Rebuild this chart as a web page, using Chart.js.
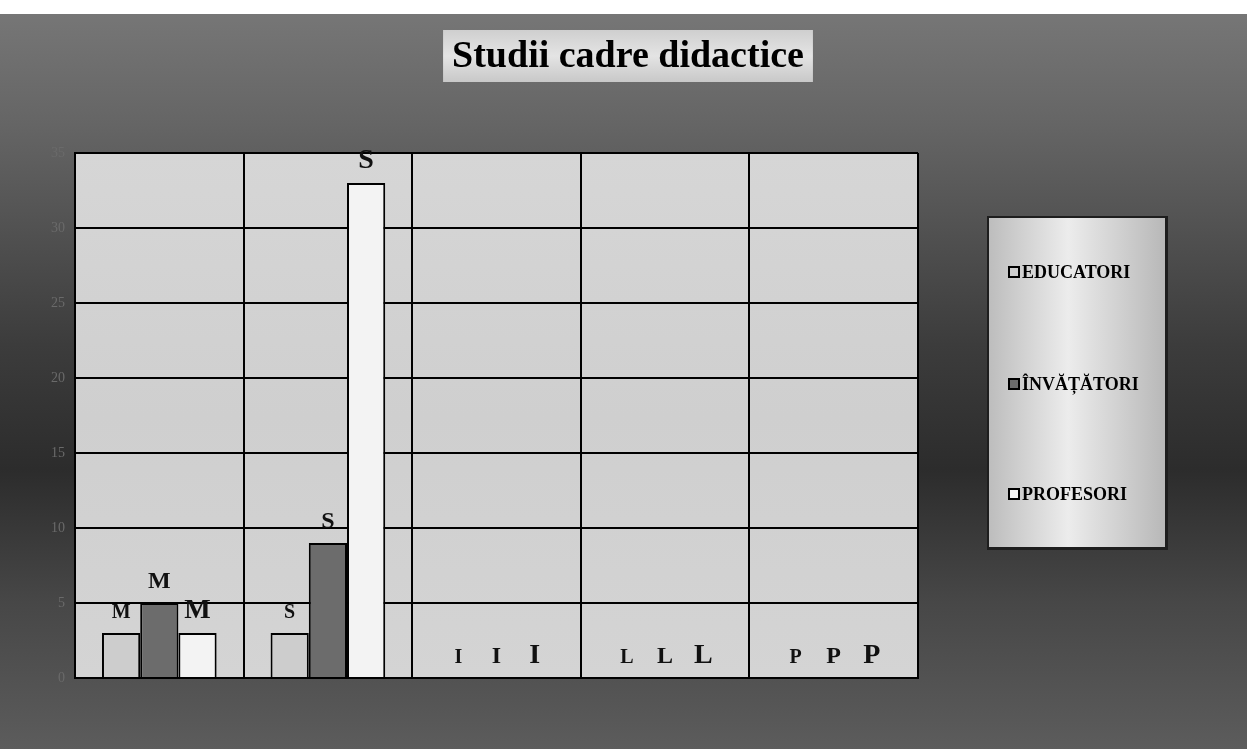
<!DOCTYPE html>
<html>
<head>
<meta charset="utf-8">
<script src="https://cdn.jsdelivr.net/npm/chart.js@4"></script>
<style>
html,body{margin:0;padding:0;background:#555;}
#wrap{width:1247px;height:749px;position:relative;}
</style>
</head>
<body>
<div id="wrap"><canvas id="c" width="1247" height="749"></canvas></div>
<script>
const categories = ['M', 'S', 'I', 'L', 'P'];
const seriesNames = ['EDUCATORI', 'ÎNVĂȚĂTORI', 'PROFESORI'];
const educatori = [3, 3, 0, 0, 0];
const invatatori = [5, 9, 0, 0, 0];
const profesori = [3, 33, 0, 0, 0];
const yMax = 35;
const yStep = 5;
const titleText = 'Studii cadre didactice';

const seriesColors = ['#cdcdcd', '#6c6c6c', '#f3f3f3'];
const labelSizes = [20, 24, 28];
const serif = '"Liberation Serif", "Times New Roman", serif';

const bgPlugin = {
  id: 'bg',
  beforeDraw(chart) {
    const {ctx, width, height, chartArea: a} = chart;
    ctx.save();
    ctx.fillStyle = '#ffffff';
    ctx.fillRect(0, 0, width, height);
    const g = ctx.createLinearGradient(0, 14, 0, height);
    g.addColorStop(0, '#767676');
    g.addColorStop(0.15, '#656565');
    g.addColorStop(0.45, '#3c3c3c');
    g.addColorStop(0.62, '#2c2c2c');
    g.addColorStop(0.8, '#474747');
    g.addColorStop(1, '#5c5c5c');
    ctx.fillStyle = g;
    ctx.fillRect(0, 14, width, height - 14);
    // plot area
    const pg = ctx.createLinearGradient(0, a.top, 0, a.bottom);
    pg.addColorStop(0, '#d6d6d6');
    pg.addColorStop(0.5, '#cfcfcf');
    pg.addColorStop(1, '#d4d4d4');
    ctx.fillStyle = pg;
    ctx.fillRect(a.left, a.top, a.right - a.left, a.bottom - a.top);
    // title box and title text
    ctx.font = 'bold 38px ' + serif;
    const tw = ctx.measureText(titleText).width;
    const cx = 628, cy = 56;
    const bx = cx - tw / 2 - 9, by = 30, bw = tw + 18, bh = 52;
    const tg = ctx.createLinearGradient(0, by, 0, by + bh);
    tg.addColorStop(0, '#cfcfcf');
    tg.addColorStop(0.5, '#e4e4e4');
    tg.addColorStop(1, '#c8c8c8');
    ctx.fillStyle = tg;
    ctx.fillRect(bx, by, bw, bh);
    ctx.fillStyle = '#000';
    ctx.textAlign = 'center';
    ctx.textBaseline = 'middle';
    ctx.fillText(titleText, cx, cy + 1);
    ctx.restore();
  }
};

const labelPlugin = {
  id: 'barLabels',
  afterDatasetsDraw(chart) {
    const {ctx} = chart;
    ctx.save();
    ctx.fillStyle = '#111';
    ctx.textAlign = 'center';
    ctx.textBaseline = 'alphabetic';
    chart.data.datasets.forEach((ds, di) => {
      const meta = chart.getDatasetMeta(di);
      ctx.font = 'bold ' + labelSizes[di] + 'px ' + serif;
      meta.data.forEach((bar, i) => {
        ctx.fillText(chart.data.labels[i], bar.x, bar.y - 15);
      });
    });
    ctx.restore();
  }
};

const legendPlugin = {
  id: 'customLegend',
  afterDraw(chart) {
    const {ctx} = chart;
    const x0 = 989, y0 = 218, w = 176, h = 329;
    ctx.save();
    ctx.fillStyle = '#1e1e1e';
    ctx.fillRect(x0 - 2, y0 - 2, w + 5, h + 5);
    const g = ctx.createLinearGradient(x0, 0, x0 + w, 0);
    g.addColorStop(0, '#bdbdbd');
    g.addColorStop(0.45, '#ececec');
    g.addColorStop(1, '#b8b8b8');
    ctx.fillStyle = g;
    ctx.fillRect(x0, y0, w, h);
    const ys = [272, 384, 494];
    ctx.font = 'bold 18px ' + serif;
    ctx.textBaseline = 'middle';
    ctx.textAlign = 'left';
    chart.data.datasets.forEach((ds, i) => {
      const y = ys[i];
      ctx.fillStyle = ds.backgroundColor;
      ctx.fillRect(1009, y - 5, 10, 10);
      ctx.strokeStyle = '#000';
      ctx.lineWidth = 2;
      ctx.strokeRect(1009, y - 5, 10, 10);
      ctx.fillStyle = '#000';
      ctx.fillText(ds.label, 1022, y + 1);
    });
    ctx.restore();
  }
};

const datasets = [educatori, invatatori, profesori].map((vals, i) => ({
  label: seriesNames[i],
  data: vals,
  backgroundColor: seriesColors[i],
  borderColor: '#000',
  borderWidth: 2,
  categoryPercentage: 0.68,
  barPercentage: 1.0
}));

new Chart(document.getElementById('c'), {
  type: 'bar',
  data: {labels: categories, datasets},
  plugins: [bgPlugin, labelPlugin, legendPlugin],
  options: {
    responsive: false,
    animation: false,
    devicePixelRatio: 1,
    layout: {padding: {left: 10, right: 329, top: 153, bottom: 71}},
    plugins: {
      legend: {display: false},
      tooltip: {enabled: false},
      title: {display: false}
    },
    scales: {
      x: {
        grid: {display: true, offset: true, color: '#000', lineWidth: 2, drawTicks: false},
        border: {display: true, color: '#000', width: 2},
        ticks: {display: false}
      },
      y: {
        min: 0,
        max: yMax,
        ticks: {stepSize: yStep, color: '#6a6a6a', font: {family: serif, size: 14}, padding: 10},
        grid: {color: '#000', lineWidth: 2, drawTicks: false},
        border: {display: true, color: '#000', width: 2},
        afterFit(s) { s.width = 65; }
      }
    }
  }
});
</script>
</body>
</html>
